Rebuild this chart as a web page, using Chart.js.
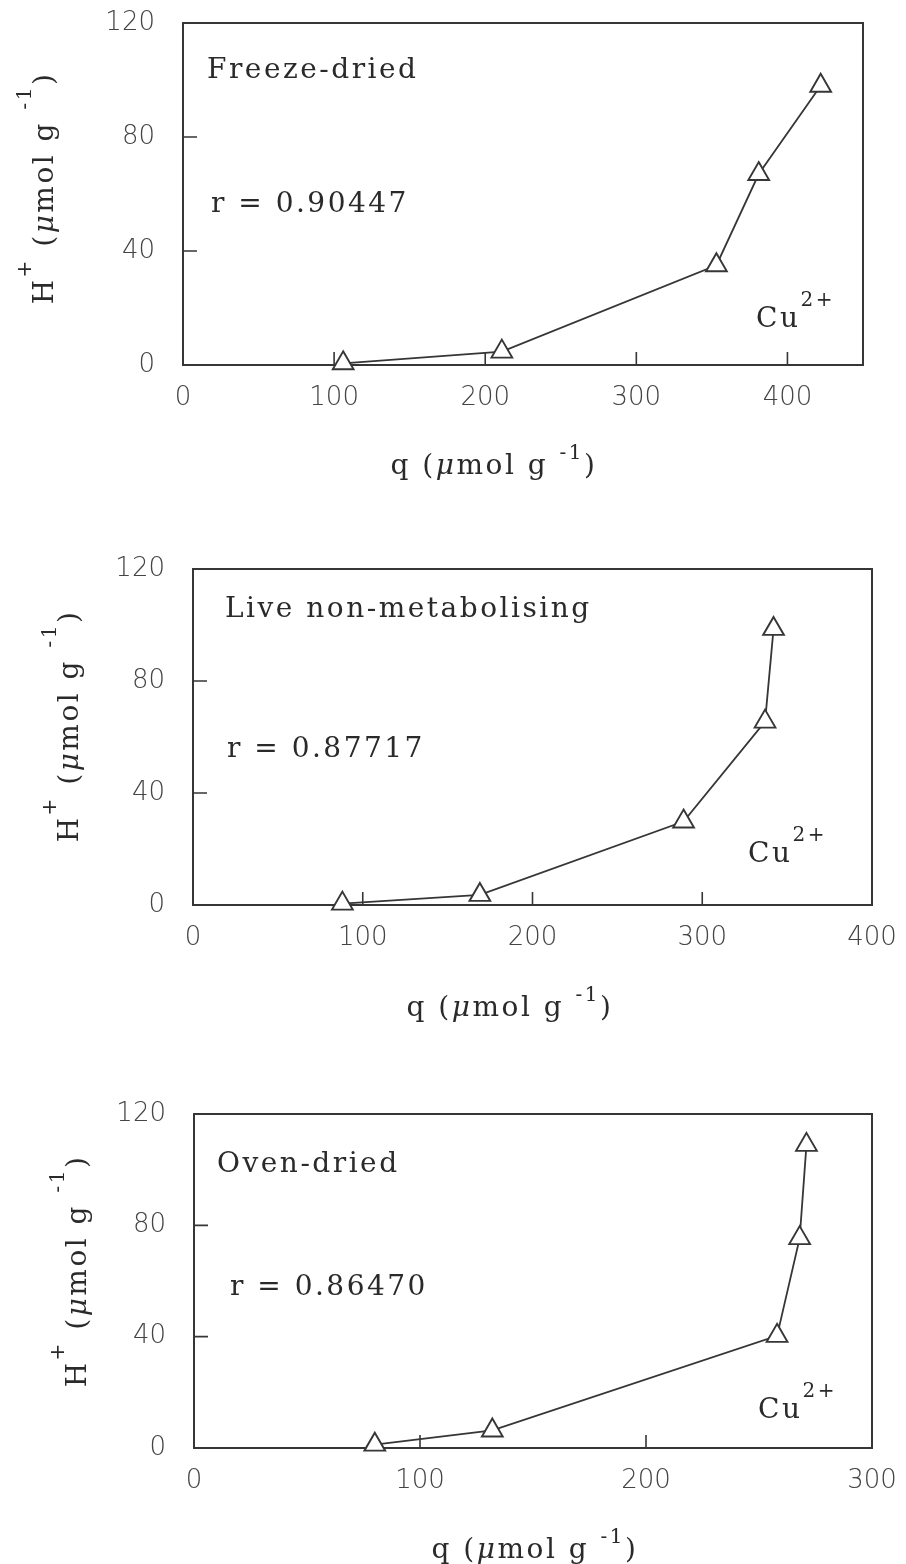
<!DOCTYPE html>
<html>
<head>
<meta charset="utf-8">
<title>H+ release vs Cu2+ uptake</title>
<script src="https://cdn.jsdelivr.net/npm/chart.js@4.4.1/dist/chart.umd.min.js"></script>
<style>
  html, body { margin: 0; padding: 0; background: #fff; }
  #wrap { position: relative; width: 906px; height: 1564px; }
  canvas { position: absolute; left: 0; }
</style>
</head>
<body>
<div id="wrap">
  <canvas id="freeze" width="906" height="530" style="top:0"></canvas>
  <canvas id="live" width="906" height="540" style="top:530px"></canvas>
  <canvas id="oven" width="906" height="494" style="top:1070px"></canvas>
</div>
<script>
// Cu2+ uptake q (umol/g) and H+ released (umol/g), one series per biomass treatment
const freezeQ = [106, 211, 353, 381, 422];
const freezeH = [0.6, 4.7, 35.0, 67.0, 98.0];
const liveQ = [88, 169, 289, 337, 342];
const liveH = [0.5, 3.6, 29.8, 65.5, 98.6];
const ovenQ = [80, 132, 258, 268, 271];
const ovenH = [1.2, 6.3, 40.3, 75.4, 108.9];

const hTicks = [0, 40, 80, 120];
const freezeQTicks = [0, 100, 200, 300, 400];
const liveQTicks = [0, 100, 200, 300, 400];
const ovenQTicks = [0, 100, 200, 300];

const panelNames = ['Freeze-dried', 'Live non-metabolising', 'Oven-dried'];
const rValues = ['0.90447', '0.87717', '0.86470'];

const INK = '#363636';
const TEXT = '#2a2a2a';
const TICK_TEXT = '#444';
const SERIF = '"DejaVu Serif", "Liberation Serif", serif';
const SANS = '"DejaVu Sans", "Liberation Sans", sans-serif';

function segFont(s) {
  const size = s.sup ? 20 : 28;
  return (s.italic ? 'italic ' : '') + size + 'px ' + SERIF;
}

function richWidth(ctx, segs) {
  let w = 0;
  for (const s of segs) {
    ctx.font = segFont(s);
    w += ctx.measureText(s.t).width;
  }
  return w;
}

function drawRich(ctx, segs, x, y) {
  let cx = x;
  for (const s of segs) {
    ctx.font = segFont(s);
    ctx.fillText(s.t, cx, y - (s.sup ? s.raise : 0));
    cx += ctx.measureText(s.t).width;
  }
}

const qTitle = [
  { t: 'q (' }, { t: '\u03bc', italic: true }, { t: 'mol g ' },
  { t: '-1', sup: true, raise: 15 }, { t: ')' }
];
const hTitle = [
  { t: 'H' }, { t: '+', sup: true, raise: 22 }, { t: ' (' }, { t: '\u03bc', italic: true },
  { t: 'mol g ' }, { t: '-1', sup: true, raise: 22 }, { t: ')' }
];

// frame, inward tick marks and the text annotations of one panel
function panelDecor(p) {
  return {
    id: 'panelDecor',
    beforeDatasetsDraw(chart) {
      const { ctx, chartArea: a, scales } = chart;
      ctx.save();
      ctx.strokeStyle = INK;
      ctx.lineWidth = 2;
      ctx.strokeRect(a.left, a.top, a.right - a.left, a.bottom - a.top);
      ctx.lineWidth = 1.6;
      ctx.beginPath();
      scales.x.ticks.forEach(t => {
        if (t.value <= scales.x.min || t.value >= scales.x.max) return;
        const px = scales.x.getPixelForValue(t.value);
        ctx.moveTo(px, a.bottom);
        ctx.lineTo(px, a.bottom - 13);
      });
      scales.y.ticks.forEach(t => {
        if (t.value <= scales.y.min || t.value >= scales.y.max) return;
        const py = scales.y.getPixelForValue(t.value);
        ctx.moveTo(a.left, py);
        ctx.lineTo(a.left + 14, py);
      });
      ctx.stroke();
      ctx.restore();
    },
    afterDraw(chart) {
      const { ctx } = chart;
      ctx.save();
      ctx.fillStyle = TEXT;
      ctx.textBaseline = 'alphabetic';
      ctx.textAlign = 'left';
      ctx.letterSpacing = '2.5px';

      drawRich(ctx, [{ t: p.name }], p.nameAt[0], p.nameAt[1]);
      drawRich(ctx, [{ t: 'r = ' + p.r }], p.rAt[0], p.rAt[1]);
      drawRich(ctx, [{ t: 'Cu' }, { t: '2+', sup: true, raise: 21 }], p.cuAt[0], p.cuAt[1]);

      const qw = richWidth(ctx, qTitle);
      drawRich(ctx, qTitle, p.qTitleAt[0] - qw / 2, p.qTitleAt[1]);

      const hw = richWidth(ctx, hTitle);
      ctx.translate(p.hTitleAt[0], p.hTitleAt[1]);
      ctx.rotate(-Math.PI / 2);
      drawRich(ctx, hTitle, -hw / 2, 0);
      ctx.restore();
    }
  };
}

function buildPanel(p) {
  const el = document.getElementById(p.id);
  const H = el.height;
  const tickFont = { family: SANS, size: 26, weight: '300' };
  return new Chart(el, {
    type: 'scatter',
    data: {
      datasets: [{
        data: p.q.map((x, i) => ({ x, y: p.h[i] })),
        showLine: true,
        tension: 0,
        borderColor: INK,
        borderWidth: 1.8,
        pointStyle: 'triangle',
        pointRadius: 12,
        pointHoverRadius: 12,
        pointBorderWidth: 1.9,
        pointBorderColor: INK,
        pointBackgroundColor: '#fff',
        clip: false
      }]
    },
    options: {
      responsive: false,
      animation: false,
      devicePixelRatio: 1,
      events: [],
      layout: { padding: { left: 0, top: p.box.top, right: 906 - p.box.right, bottom: 0 } },
      plugins: { legend: { display: false }, tooltip: { enabled: false } },
      scales: {
        x: {
          type: 'linear',
          min: 0,
          max: p.qMax,
          afterBuildTicks: s => { s.ticks = p.qTicks.map(value => ({ value })); },
          afterFit: s => {
            s.height = H - p.box.bottom;
            s.paddingLeft = 0;
            s.paddingRight = 0;
          },
          grid: { display: false },
          border: { display: false },
          ticks: { padding: 10, maxRotation: 0, color: TICK_TEXT, font: tickFont }
        },
        y: {
          type: 'linear',
          min: 0,
          max: 120,
          afterBuildTicks: s => { s.ticks = hTicks.map(value => ({ value })); },
          afterFit: s => {
            s.width = p.box.left;
            s.paddingTop = 0;
            s.paddingBottom = 0;
          },
          grid: { display: false },
          border: { display: false },
          ticks: { padding: 20, color: TICK_TEXT, font: tickFont }
        }
      }
    },
    plugins: [panelDecor(p)]
  });
}

buildPanel({
  id: 'freeze', q: freezeQ, h: freezeH, qMax: 450, qTicks: freezeQTicks,
  name: panelNames[0], r: rValues[0],
  box: { left: 183, right: 863, top: 23, bottom: 365 },
  nameAt: [207, 78], rAt: [211, 212], cuAt: [756, 327],
  qTitleAt: [494, 474], hTitleAt: [53, 188]
});

buildPanel({
  id: 'live', q: liveQ, h: liveH, qMax: 400, qTicks: liveQTicks,
  name: panelNames[1], r: rValues[1],
  box: { left: 193, right: 872, top: 39, bottom: 375 },
  nameAt: [225, 87], rAt: [227, 227], cuAt: [748, 332],
  qTitleAt: [510, 486], hTitleAt: [78, 196]
});

buildPanel({
  id: 'oven', q: ovenQ, h: ovenH, qMax: 300, qTicks: ovenQTicks,
  name: panelNames[2], r: rValues[2],
  box: { left: 194, right: 872, top: 44, bottom: 378 },
  nameAt: [217, 102], rAt: [230, 225], cuAt: [758, 348],
  qTitleAt: [535, 488], hTitleAt: [86, 201]
});
</script>
</body>
</html>
